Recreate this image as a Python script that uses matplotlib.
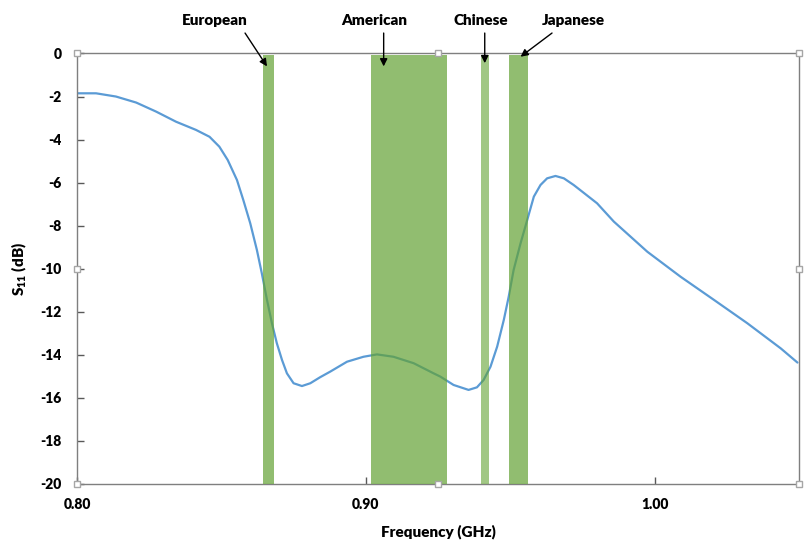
import numpy as np
import matplotlib
matplotlib.use("Agg")
import matplotlib.pyplot as plt

plt.rcParams['font.family'] = ['Lato', 'DejaVu Sans']
plt.rcParams['font.weight'] = 'heavy'
plt.rcParams['axes.unicode_minus'] = False
plt.rcParams['mathtext.fontset'] = 'custom'
plt.rcParams['mathtext.rm'] = 'Lato:heavy'
plt.rcParams['mathtext.bf'] = 'Lato:heavy'

freq = [0.800, 0.8066, 0.8135, 0.8205, 0.8274, 0.8343, 0.8412, 0.8459, 0.8493, 0.8522,
        0.8554, 0.8576, 0.8600, 0.8623, 0.8640, 0.8658, 0.8675, 0.8692, 0.8710, 0.8727,
        0.8750, 0.8779, 0.8808, 0.8842, 0.8877, 0.8935, 0.8992, 0.9039, 0.9096, 0.9166,
        0.9235, 0.9258, 0.9304, 0.9356, 0.9385, 0.9408, 0.9432, 0.9455, 0.9478, 0.9495,
        0.9512, 0.9536, 0.9559, 0.9582, 0.9605, 0.9628, 0.9657, 0.9686, 0.9720, 0.9743,
        0.9801, 0.9859, 0.9917, 0.9975, 1.0090, 1.0206, 1.0321, 1.0437, 1.0495]
s11 = [-1.85, -1.85, -2.00, -2.28, -2.70, -3.17, -3.55, -3.87, -4.33, -4.95,
       -5.88, -6.81, -7.89, -9.13, -10.21, -11.45, -12.53, -13.46, -14.24, -14.86,
       -15.32, -15.45, -15.32, -15.04, -14.78, -14.32, -14.09, -13.98, -14.09, -14.39,
       -14.86, -15.01, -15.40, -15.63, -15.51, -15.17, -14.55, -13.62, -12.38, -11.30,
       -10.06, -8.82, -7.74, -6.65, -6.11, -5.80, -5.69, -5.80, -6.11, -6.35,
       -6.96, -7.81, -8.51, -9.21, -10.37, -11.45, -12.53, -13.70, -14.36]

# RFID bands (GHz)
band_names = ['European', 'American', 'Chinese', 'Japanese']
band_lo = [0.8645, 0.9019, 0.9400, 0.9497]
band_hi = [0.8683, 0.9282, 0.9428, 0.9562]
band_alpha = [0.7, 0.7, 0.6, 0.7]

fig = plt.figure(figsize=(8.07, 5.43), dpi=100)
ax = fig.add_axes([0.0954, 0.1087, 0.8946, 0.7928])

ax.plot(freq, s11, color='#5B9BD5', lw=1.6, zorder=2,
        solid_joinstyle='round', solid_capstyle='round')

for lo, hi, a in zip(band_lo, band_hi, band_alpha):
    ax.bar(lo, 19.93, width=hi - lo, bottom=-20, align='edge',
           color='#63A233', alpha=a, lw=0, zorder=3)

ax.set_xlim(0.80, 1.05)
ax.set_ylim(-20, 0)
ax.set_xticks([0.80, 0.90, 1.00])
ax.set_xticklabels(['0.80', '0.90', '1.00'])
ax.set_yticks(np.arange(-20, 1, 2))
ax.set_yticklabels([str(v) for v in range(-20, 1, 2)])
ax.tick_params(axis='both', direction='in', length=5, width=1, color='#595959',
               labelsize=10)
ax.tick_params(axis='x', pad=10)
ax.tick_params(axis='y', pad=11)
for s in ax.spines.values():
    s.set_color('#7f7f7f')
    s.set_linewidth(1)

ax.set_xlabel('Frequency (GHz)', fontsize=11, fontweight='heavy', labelpad=10)
ax.set_ylabel(r'S$_{11}$ (dB)', fontsize=11, fontweight='heavy', labelpad=8)

# labels and arrows
label_x = [0.8478, 0.9030, 0.9400, 0.9720]
tail = [(0.8582, 0.95), (0.9062, 0.95), (0.9412, 0.95), (0.9645, 0.95)]
tip = [(0.8658, -0.6), (0.9062, -0.6), (0.9412, -0.45), (0.9536, -0.15)]
for name, lx, t0, t1 in zip(band_names, label_x, tail, tip):
    ax.text(lx, 1.55, name, ha='center', va='center', fontsize=11,
            fontweight='heavy', clip_on=False)
    ax.annotate('', xy=t1, xytext=t0, annotation_clip=False,
                arrowprops=dict(arrowstyle='-|>', color='black', lw=1,
                                mutation_scale=11, shrinkA=0, shrinkB=0),
                zorder=5)

# selection handles of the plot area
hx = [0, 0.5, 1, 0, 1, 0, 0.5, 1]
hy = [0, 0, 0, 0.5, 0.5, 1, 1, 1]
ax.plot(hx, hy, 's', transform=ax.transAxes, clip_on=False, ms=5,
        mfc='white', mec='#a6a6a6', mew=1, zorder=10)

fig.savefig('out.png', dpi=100)
